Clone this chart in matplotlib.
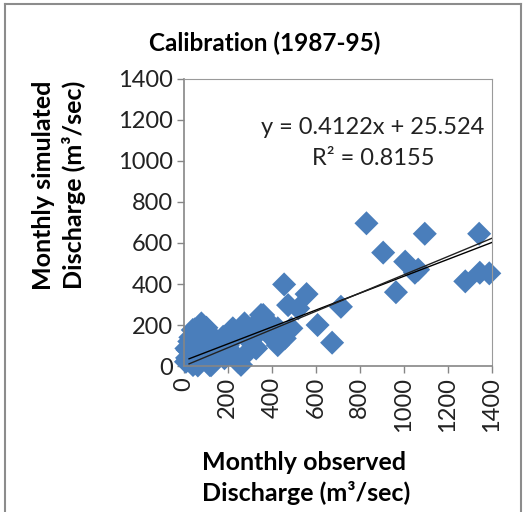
import matplotlib
matplotlib.use("Agg")
import matplotlib.pyplot as plt
from matplotlib.lines import Line2D
import numpy as np

plt.rcParams['font.family'] = ['Lato', 'DejaVu Sans']

# monthly observed vs simulated discharge (m3/sec), calibration 1987-95
observed = [830, 906, 1095, 1342, 1006, 1065, 964, 1279, 1345, 1388,
            1050, 456, 558, 714, 474, 520, 608, 674, 489, 429,
            459, 361, 376, 315, 323, 285, 247, 217, 224, 179,
            141, 80, 103, 50, 12, 20, 42, 118, 79, 41,
            117, 18, 49, 10, 64, 124, 223, 200, 276, 351,
            321, 230, 260, 329, 185, 427, 427, 30, 60, 90,
            150, 170, 250, 300, 35, 95, 140, 15, 25, 70,
            110, 200, 160, 340, 390]
simulated = [696, 553, 645, 645, 509, 470, 360, 413, 455, 452,
             455, 398, 351, 289, 297, 281, 200, 114, 184, 111,
             135, 249, 224, 192, 94, 62, 21, 70, 167, 143,
             119, 208, 187, 179, 86, 29, 5, 5, 200, 176,
             159, 78, 111, 21, 3, 4, 184, 143, 208, 249,
             143, 45, 6, 86, 38, 102, 184, 140, 150, 60,
             100, 120, 160, 120, 50, 100, 60, 40, 120, 30,
             90, 100, 60, 170, 150]

# fitted trend lines
slope, intercept = 0.4122, 25.524
origin_slope = 0.445
x_fit = np.array([24, 1400])

fig = plt.figure(figsize=(5.25, 5.12), dpi=100)
ax = fig.add_axes([0.350, 0.285, 0.587, 0.561])

ax.scatter(observed, simulated, marker='D', s=150, color='#4A7EBB',
           edgecolors='none', zorder=2, clip_on=False)
ax.plot(x_fit, slope * x_fit + intercept, color='black', lw=1, zorder=3)
ax.plot(x_fit, origin_slope * x_fit, color='#222222', lw=1, zorder=3)

ax.set_xlim(0, 1400)
ax.set_ylim(0, 1400)
ticks = np.arange(0, 1401, 200)
ax.set_xticks(ticks)
ax.set_yticks(ticks)
ax.set_xticklabels([str(t) for t in ticks], rotation=90, fontsize=17, color='#222222')
ax.set_yticklabels([str(t) for t in ticks], fontsize=17, color='#222222')
ax.tick_params(direction='out', length=5, width=1, color='#868686', pad=3)

for side in ['left', 'bottom']:
    ax.spines[side].set_color('#868686')
    ax.spines[side].set_linewidth(1.2)
for side in ['top', 'right']:
    ax.spines[side].set_color('#9a9a9a')
    ax.spines[side].set_linewidth(0.8)

ax.text(860, 1161, 'y = 0.4122x + 25.524', ha='center', va='center', fontsize=17, color='#222222')
ax.text(860, 1010, 'R² = 0.8155', ha='center', va='center', fontsize=17, color='#222222')

fig.text(0.505, 0.916, 'Calibration (1987-95)', ha='center', va='center',
         fontsize=17.5, fontweight='bold')
fig.text(0.082, 0.638, 'Monthly simulated', rotation=90, ha='center', va='center',
         fontsize=18, fontweight='bold')
fig.text(0.141, 0.638, 'Discharge (m³/sec)', rotation=90, ha='center', va='center',
         fontsize=18, fontweight='bold')
fig.text(0.579, 0.096, 'Monthly observed', ha='center', va='center',
         fontsize=18, fontweight='bold')
fig.text(0.584, 0.037, 'Discharge (m³/sec)', ha='center', va='center',
         fontsize=18, fontweight='bold')

# outer chart frame
frame = dict(color='#8c8c8c', lw=1.5, transform=fig.transFigure)
fig.add_artist(Line2D([0.010, 0.010], [0.0, 0.992], **frame))
fig.add_artist(Line2D([0.010, 0.992], [0.992, 0.992], **frame))
fig.add_artist(Line2D([0.992, 0.992], [0.0, 0.992], **frame))

fig.savefig('out.png', dpi=100)
